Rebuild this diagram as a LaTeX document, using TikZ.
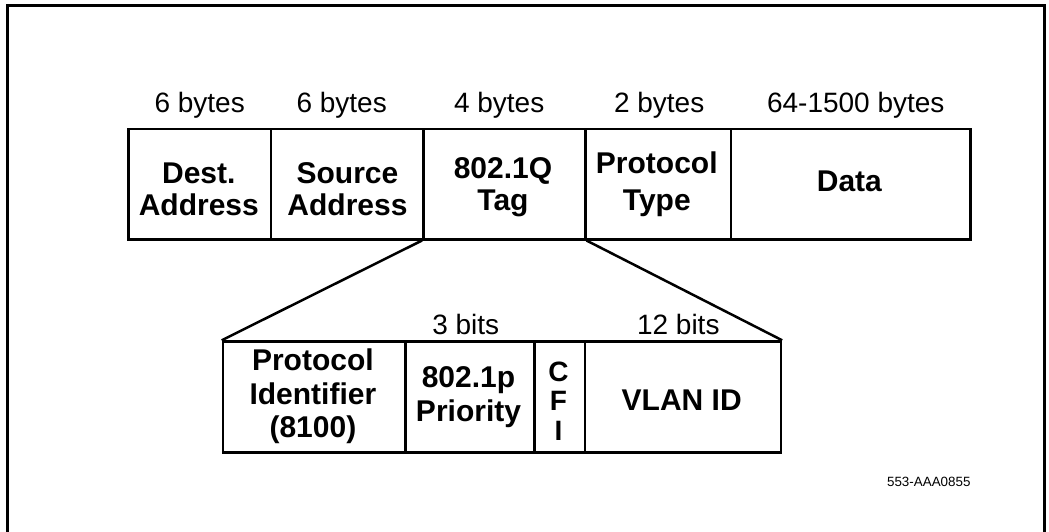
\documentclass[tikz,border=0pt]{standalone}
\usepackage{fontspec}
\setmainfont{Liberation Sans}
\newcommand\bst{\rule[-4.5pt]{0pt}{30.5pt}}
\newcommand\cst{\rule[-2pt]{0pt}{24pt}}
\begin{document}
\begin{tikzpicture}[x=1pt,y=-1pt,
  field/.style={draw, line width=2.5pt, inner sep=0pt, anchor=north west},
  ftext/.style={inner sep=0pt, align=center, font=\fontsize{30}{#1}\selectfont\bfseries},
  ftext/.default=33,
  sizelbl/.style={anchor=base, inner sep=0pt, font=\fontsize{28}{30}\selectfont},
  link/.style={line width=2.5pt},
  frame/.style={line width=3pt}]
\useasboundingbox (0,0) rectangle (1049,532);
\draw[frame] (7.5,532) -- (7.5,5.5) -- (1044.5,5.5) -- (1044.5,532);

% top row
\node[field, minimum width=142.4, minimum height=110] (dest) at (127.3,128) {};
\node[field, minimum width=152.3, minimum height=110] (src) at (269.7,128) {};
\node[field, minimum width=162, minimum height=110] (tag) at (422,128) {};
\node[field, minimum width=145.7, minimum height=110] (ptype) at (584,128) {};
\node[field, minimum width=239.3, minimum height=110] (data) at (729.7,128) {};

\node[ftext=31.7] (destT) at (198.8,188.4) {\bst Dest.\\\bst Address};
\node[ftext=31.7] (srcT) at (347.5,188.4) {\bst Source\\\bst Address};
\node[ftext=32.4] (tagT) at (503,184.75) {\bst 802.1Q\\\bst Tag};
\node[ftext=37.7] (ptypeT) at (656.8,182.1) {\bst Protocol\\\bst Type};
\node[ftext] (dataT) at (849.4,180.9) {\bst Data};

\node[sizelbl] (l1) at (199.7,112.5) {6 bytes};
\node[sizelbl] (l2) at (341.7,112.5) {6 bytes};
\node[sizelbl] (l3) at (499.2,112.5) {4 bytes};
\node[sizelbl] (l4) at (659.2,112.5) {2 bytes};
\node[sizelbl] (l5) at (855.8,112.5) {64-1500 bytes};

% bottom row
\node[field, minimum width=182.3, minimum height=111] (pid) at (221.7,340.3) {};
\node[field, minimum width=129, minimum height=111] (prio) at (404,340.3) {};
\node[field, minimum width=50.7, minimum height=111] (cfi) at (533,340.3) {};
\node[field, minimum width=196, minimum height=111] (vlan) at (583.7,340.3) {};

\node[ftext=33.3] (pidT) at (312.9,394.25) {\bst Protocol\\\bst Identifier\\\bst (8100)};
\node[ftext=34.4] (prioT) at (468.5,394.75) {\bst 802.1p\\\bst Priority};
\node[inner sep=0pt, align=center, font=\fontsize{28}{29.2}\selectfont\bfseries] (cfiT) at (558.4,400.85) {\cst C\\\cst F\\\cst I};
\node[ftext] (vlanT) at (681.7,399.25) {\bst VLAN ID};

\node[sizelbl] (b1) at (465.8,334) {3 bits};
\node[sizelbl] (b2) at (678.3,334) {12 bits};

\draw[link] (tag.south west) -- (pid.north west);
\draw[link] (tag.south east) -- (vlan.north east);

\node[anchor=base east, inner sep=0pt, font=\fontsize{13.4}{15}\selectfont] (ref) at (970.7,486.7) {553-AAA0855};
\end{tikzpicture}
\end{document}
